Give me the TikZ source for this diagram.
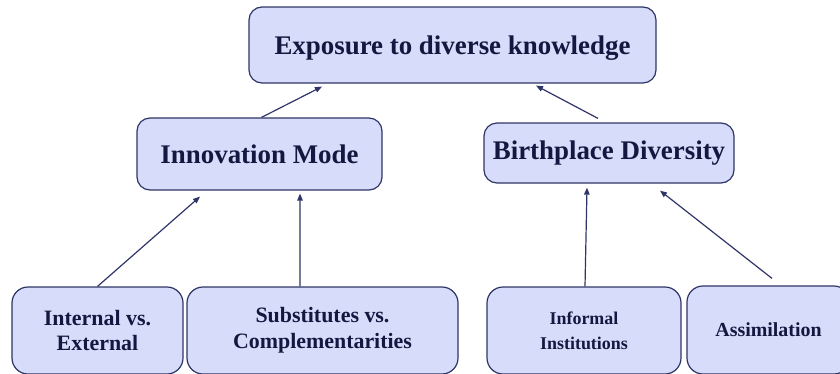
\documentclass[tikz,border=0pt]{standalone}
\usepackage{fontspec}
\newfontfamily\boxfont{LiberationSerif-Bold}[Extension=.ttf]
\usetikzlibrary{arrows.meta, positioning}

\definecolor{boxfill}{RGB}{214,220,250}
\definecolor{boxline}{RGB}{47,53,102}
\definecolor{boxtext}{RGB}{20,24,64}

\begin{document}
\begin{tikzpicture}[
    x=1bp, y=-1bp,
    box/.style={rectangle, draw=boxline, fill=boxfill, line width=1.2bp,
                rounded corners=13bp, text=boxtext, font=\boxfont,
                align=center, inner sep=0pt},
    big/.style={box, font=\fontsize{27}{30}\boxfont},
    small/.style={box, rounded corners=16bp,
                  font=\fontsize{22}{26}\boxfont},
    arr/.style={-{Triangle[length=7bp, width=5.5bp]}, line width=1.2bp,
                draw=boxline},
  ]
    \useasboundingbox (0,0) rectangle (840,373);
    \clip (0,0) rectangle (840,373);

    % Oberste Ebene
    \node[big, minimum width=407bp, minimum height=76bp, text depth=0pt] (expo)
      at (452.5,45) {Exposure to diverse knowledge};

    % Mittlere Ebene
    \node[big, minimum width=245bp, minimum height=72bp] (mode)
      at (259.5,154) {Innovation Mode};
    \node[big, minimum width=250bp, minimum height=60bp] (birth)
      at (609,153) {Birthplace Diversity};

    % Untere Ebene
    \node[small, minimum width=171bp, minimum height=87bp] (intext)
      at (97.5,330.5) {Internal vs.\\External};
    \node[small, minimum width=271bp, minimum height=87bp] (subst)
      at (322.5,330.5) {Substitutes vs.\\Complementarities};
    \node[small, minimum width=194bp, minimum height=87bp,
          font=\fontsize{18}{25}\boxfont] (inform)
      at (584,330.5) {Informal\\Institutions};
    \node[small, minimum width=163bp, minimum height=88bp,
          font=\fontsize{20}{24}\boxfont] (assim)
      at (768.5,330) {Assimilation};

    % Pfeile
    \draw[arr] ([xshift=2bp]mode.north) -- ([shift={(-130.5,3)}]expo.south);
    \draw[arr] ([shift={(-11,-4)}]birth.north) -- ([shift={(83.5,2)}]expo.south);
    \draw[arr] (intext.north) -- ([shift={(-59.5,6)}]mode.south);
    \draw[arr] ([xshift=-22.5bp]subst.north) -- ([shift={(40.5,3)}]mode.south);
    \draw[arr] ([xshift=1bp]inform.north) -- ([shift={(-22,4)}]birth.south);
    \draw[arr] ([shift={(3.5,-7)}]assim.north) -- ([shift={(51,7)}]birth.south);
  \end{tikzpicture}
\end{document}
